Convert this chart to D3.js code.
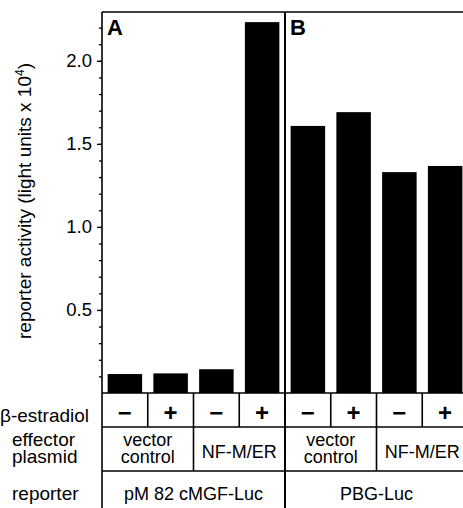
<!DOCTYPE html>
<html>
  <head>
    <meta charset="utf-8">
    <style>
      body { margin: 0; background-color: white; }
      svg { display: block; }
      text { font-family: "Liberation Sans", Arial, Helvetica, sans-serif; fill: black; }
    </style>
    <script src="https://d3js.org/d3.v7.min.js"></script>
  </head>
  <body>
    <script>
    // data
    var bars = ["A1", "A2", "A3", "A4", "B1", "B2", "B3", "B4"];
    var values = [0.114, 0.118, 0.143, 2.233, 1.608, 1.691, 1.33, 1.367];
    var estradiol = ["\u2212", "+", "\u2212", "+", "\u2212", "+", "\u2212", "+"];
    var effector = [["vector", "control"], ["NF-M/ER"], ["vector", "control"], ["NF-M/ER"]];
    var reporter = ["pM 82 cMGF-Luc", "PBG-Luc"];
    var panels = ["A", "B"];
    var majorTicks = [0.5, 1.0, 1.5, 2.0];
    var rowLabels = [["\u03b2-estradiol"], ["effector", "plasmid"], ["reporter"]];

    var width = 463;
    var height = 508;
    var plotLeft = 102, plotRight = 468, plotTop = 12, base = 393;
    var row1 = 427, row2 = 471;

    var svg = d3.select("body").append("svg")
      .attr("width", width)
      .attr("height", height)

    svg.append("rect").attr("width", width).attr("height", height).attr("fill", "white")

    let y = d3.scaleLinear()
      .domain([0, 2.3])
      .range([base, plotTop - 1])
    let x = d3.scaleBand()
      .domain(bars)
      .range([plotLeft, plotRight])
      .paddingInner(0.246)
      .paddingOuter(0.123)
    var step = x.step();

    // bars
    svg.append("g")
      .selectAll("rect")
      .data(values)
      .enter().append("rect")
        .attr("x", (d, i) => x(bars[i]))
        .attr("width", x.bandwidth())
        .attr("y", (d) => y(d))
        .attr("height", (d) => y(0) - y(d))
        .attr("fill", "black")

    // y axis: minor and major ticks
    var minor = svg.append("g")
      .attr("transform", "translate(" + plotLeft + ",0)")
      .call(d3.axisLeft(y).tickValues(d3.range(1, 23).map(i => i / 10)).tickSize(3).tickFormat(""))
    minor.select(".domain").remove()
    var major = svg.append("g")
      .attr("transform", "translate(" + plotLeft + ",0)")
      .call(d3.axisLeft(y).tickValues(majorTicks).tickSize(5).tickPadding(5).tickFormat(d3.format(".1f")))
    major.select(".domain").remove()
    major.selectAll("text").style("font-size", "18.5px").attr("font-family", null)
    svg.selectAll(".tick line").attr("stroke-width", 1.3)

    // y axis title
    var title = svg.append("text")
      .attr("transform", "translate(31," + 201 + ") rotate(-90)")
      .attr("text-anchor", "middle")
      .style("font-size", "19px")
    title.append("tspan").text("reporter activity (light units x 10")
    title.append("tspan").text("4").style("font-size", "12px").attr("dy", -7)
    title.append("tspan").text(")").attr("dy", 7)

    // frame lines
    var lines = svg.append("g").attr("stroke", "black").attr("stroke-width", 1.6)
    lines.append("line").attr("x1", plotLeft).attr("x2", plotLeft).attr("y1", plotTop).attr("y2", height)
    lines.append("line").attr("x1", plotLeft).attr("x2", width).attr("y1", plotTop).attr("y2", plotTop)
    lines.append("line").attr("x1", plotLeft).attr("x2", width).attr("y1", base).attr("y2", base)
    lines.append("line").attr("x1", plotLeft).attr("x2", width).attr("y1", row1).attr("y2", row1)
    lines.append("line").attr("x1", plotLeft).attr("x2", width).attr("y1", row2).attr("y2", row2)
    // panel divider
    lines.append("line").attr("x1", plotLeft + 4 * step).attr("x2", plotLeft + 4 * step)
      .attr("y1", plotTop).attr("y2", height).attr("stroke-width", 2)

    // table verticals
    lines.selectAll(".v1").data(d3.range(1, 8)).enter().append("line")
      .attr("x1", (d) => plotLeft + d * step).attr("x2", (d) => plotLeft + d * step)
      .attr("y1", base).attr("y2", row1)
    lines.selectAll(".v2").data([2, 6]).enter().append("line")
      .attr("x1", (d) => plotLeft + d * step).attr("x2", (d) => plotLeft + d * step)
      .attr("y1", row1).attr("y2", row2)

    // panel letters
    svg.selectAll(".panel")
      .data(panels)
      .enter().append("text")
        .attr("x", (d, i) => plotLeft + i * 4 * step + 5)
        .attr("y", 35)
        .style("font-size", "22px")
        .style("font-weight", "bold")
        .text((d) => d)

    // row 1: estradiol signs
    svg.selectAll(".sign")
      .data(estradiol)
      .enter().append("text")
        .attr("x", (d, i) => x(bars[i]) + x.bandwidth() / 2)
        .attr("y", 421)
        .attr("text-anchor", "middle")
        .style("font-size", "24px")
        .style("font-weight", "bold")
        .text((d) => d)

    // row 2: effector plasmid
    effector.forEach(function(lab, i) {
      var cx = plotLeft + (i * 2 + 1) * step;
      var t = svg.append("text")
        .attr("text-anchor", "middle")
        .style("font-size", "18px")
      if (lab.length == 2) {
        t.append("tspan").attr("x", cx).attr("y", 446).text(lab[0])
        t.append("tspan").attr("x", cx).attr("y", 463).text(lab[1])
      } else {
        t.append("tspan").attr("x", cx).attr("y", 458).text(lab[0])
      }
    });

    // row 3: reporter
    svg.selectAll(".rep")
      .data(reporter)
      .enter().append("text")
        .attr("x", (d, i) => plotLeft + (i * 4 + 2) * step)
        .attr("y", 500)
        .attr("text-anchor", "middle")
        .style("font-size", "18px")
        .text((d) => d)

    // row labels
    var rowY = [[422], [446, 463], [500]];
    var rowX = [0, 12, 12];
    rowLabels.forEach(function(lab, i) {
      var t = svg.append("text").style("font-size", "19px")
      lab.forEach(function(s, j) {
        t.append("tspan").attr("x", rowX[i]).attr("y", rowY[i][j]).text(s)
      });
    });
    </script>
  </body>
</html>
